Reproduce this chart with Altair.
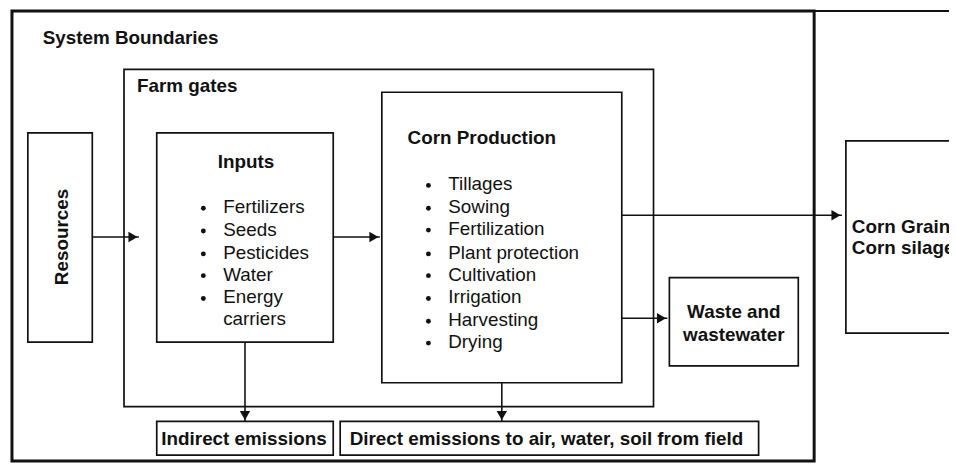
import altair as alt
import pandas as pd

# ---------------- data (diagram geometry, in pixels) -------------
box_names = ["System Boundaries", "Farm gates", "Resources", "Inputs", "Corn Production",
             "Waste and wastewater", "Corn Grain", "Indirect emissions", "Direct emissions"]
box_x0 = [12, 125, 28, 158, 385, 675, 853, 158, 343]
box_x1 = [821, 659, 93, 336, 627, 805, 985, 336, 765]
box_y0 = [9, 68, 132, 132, 91, 278, 140, 423, 423]
box_y1 = [463, 408, 343, 343, 384, 367, 334, 457, 457]
box_sw = [3, 1.7, 1.7, 1.7, 1.7, 1.7, 1.7, 1.7, 1.7]

edge_x0 = [821]
edge_x1 = [960]
edge_y = [9]

arrow_x0 = [93, 336, 627, 627, 247, 506]
arrow_x1 = [140, 383, 849, 673, 247, 506]
arrow_y0 = [237, 237, 215, 319, 343, 384]
arrow_y1 = [237, 237, 215, 319, 423, 423]
arrow_dir = ["right", "right", "right", "right", "down", "down"]

bold_left_text = ["System Boundaries", "Farm gates", "Corn Production", "Corn Grain", "Corn silage"]
bold_left_x = [43, 138, 411, 859, 859]
bold_left_y = [36, 85, 137, 227, 248]

bold_center_text = ["Inputs", "Waste and", "wastewater", "Indirect emissions",
                    "Direct emissions to air, water, soil from field"]
bold_center_x = [248, 740, 740, 246, 551]
bold_center_y = [161, 313, 336, 441, 441]

rotated_text = ["Resources"]
rotated_x = [63]
rotated_y = [237]

input_items = ["Fertilizers", "Seeds", "Pesticides", "Water", "Energy", "carriers"]
input_y = [207, 230, 253, 275, 298, 320]
input_bullet = [True, True, True, True, True, False]
input_text_x = 225
input_bullet_x = 205

corn_items = ["Tillages", "Sowing", "Fertilization", "Plant protection", "Cultivation",
              "Irrigation", "Harvesting", "Drying"]
corn_y = [184, 207, 229, 253, 275, 298, 321, 343]
corn_text_x = 452
corn_bullet_x = 432

# ---------------- tables -------------
boxes = pd.DataFrame({"name": box_names, "x0": box_x0, "x1": box_x1,
                      "y0": box_y0, "y1": box_y1, "sw": box_sw})
edges = pd.DataFrame({"x0": edge_x0, "x1": edge_x1, "y": edge_y})
arrows = pd.DataFrame({"x0": arrow_x0, "x1": arrow_x1, "y0": arrow_y0,
                       "y1": arrow_y1, "dir": arrow_dir})
bl = pd.DataFrame({"t": bold_left_text, "x": bold_left_x, "y": bold_left_y})
bc = pd.DataFrame({"t": bold_center_text, "x": bold_center_x, "y": bold_center_y})
rt = pd.DataFrame({"t": rotated_text, "x": rotated_x, "y": rotated_y})
items = pd.DataFrame({
    "t": input_items + corn_items,
    "x": [input_text_x] * len(input_items) + [corn_text_x] * len(corn_items),
    "bx": [input_bullet_x] * len(input_items) + [corn_bullet_x] * len(corn_items),
    "y": input_y + corn_y,
    "b": input_bullet + [True] * len(corn_items),
})

FONT = "Liberation Sans"
INK = "#111111"

xs = alt.Scale(domain=[8, 957], nice=False, zero=False)
ys = alt.Scale(domain=[8, 465], nice=False, zero=False, reverse=True)

def X(f):
    return alt.X(f, type="quantitative", scale=xs, axis=None)

def Y(f):
    return alt.Y(f, type="quantitative", scale=ys, axis=None)

rects = alt.Chart(boxes).mark_rect(fillOpacity=0, stroke=INK).encode(
    x=X("x0"), x2="x1", y=Y("y0"), y2="y1",
    strokeWidth=alt.StrokeWidth("sw:Q", scale=None, legend=None),
)

edge = alt.Chart(edges).mark_rule(color=INK, strokeWidth=2).encode(
    x=X("x0"), x2="x1", y=Y("y")
)

lines = alt.Chart(arrows).mark_rule(color=INK, strokeWidth=1.6).encode(
    x=X("x0"), x2="x1", y=Y("y0"), y2="y1"
)

heads_r = alt.Chart(arrows).transform_filter(alt.datum.dir == "right").mark_point(
    shape="triangle-right", filled=True, size=110, color=INK, opacity=1, xOffset=-6
).encode(x=X("x1"), y=Y("y1"))

heads_d = alt.Chart(arrows).transform_filter(alt.datum.dir == "down").mark_point(
    shape="triangle-down", filled=True, size=110, color=INK, opacity=1, yOffset=-6
).encode(x=X("x1"), y=Y("y1"))

t_bl = alt.Chart(bl).mark_text(font=FONT, fontSize=19, fontWeight="bold", align="left",
                               baseline="middle", color=INK).encode(
    x=X("x"), y=Y("y"), text="t:N")

t_bc = alt.Chart(bc).mark_text(font=FONT, fontSize=19, fontWeight="bold", align="center",
                               baseline="middle", color=INK).encode(
    x=X("x"), y=Y("y"), text="t:N")

t_rt = alt.Chart(rt).mark_text(font=FONT, fontSize=19, fontWeight="bold", align="center",
                               baseline="middle", color=INK, angle=270).encode(
    x=X("x"), y=Y("y"), text="t:N")

t_items = alt.Chart(items).mark_text(font=FONT, fontSize=19, align="left",
                                     baseline="middle", color=INK).encode(
    x=X("x"), y=Y("y"), text="t:N")

bullets = alt.Chart(items).transform_filter(alt.datum.b).mark_point(
    shape="circle", filled=True, size=24, color=INK, opacity=1, yOffset=1
).encode(x=X("bx"), y=Y("y"))

chart = alt.layer(rects, edge, lines, heads_r, heads_d, t_bl, t_bc, t_rt, t_items, bullets).properties(
    width=949, height=457, padding=0, autosize="none", background="white"
).configure_view(strokeWidth=0)

chart.save("out.html", embed_options={"renderer": "svg", "actions": False})
